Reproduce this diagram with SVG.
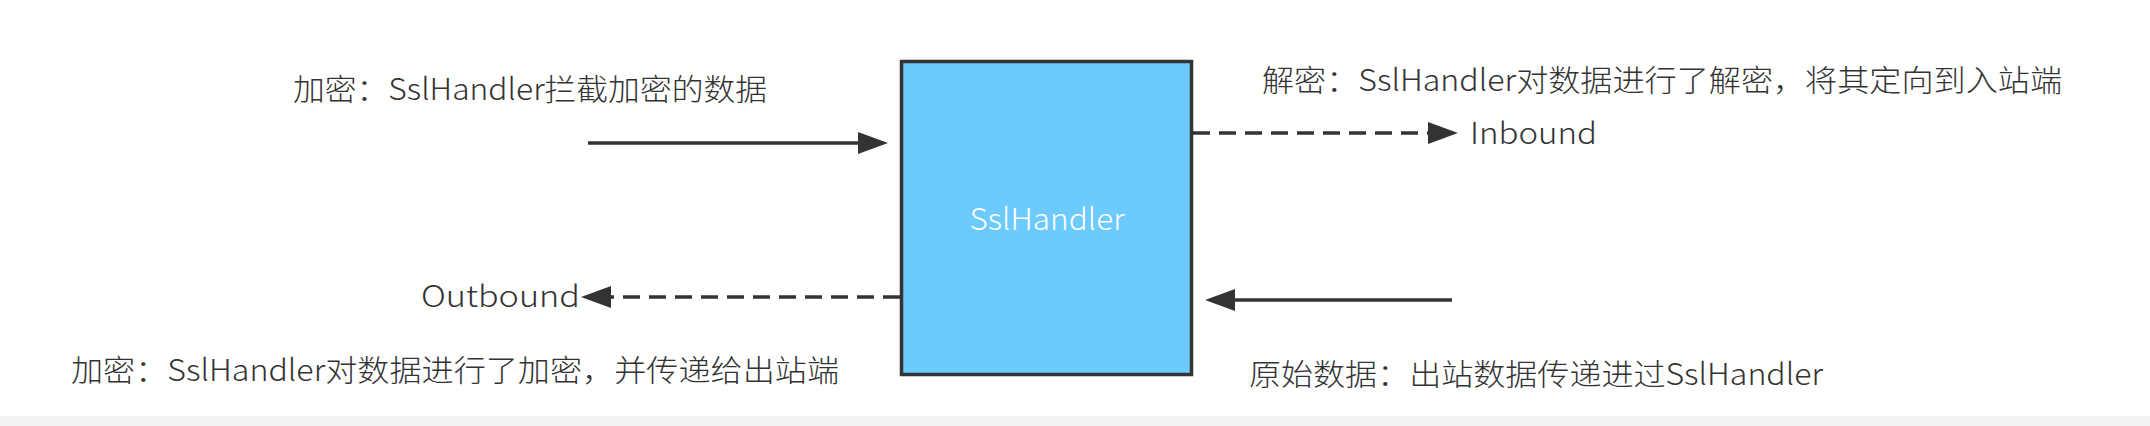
<svg xmlns="http://www.w3.org/2000/svg" width="2150" height="426" viewBox="0 0 2150 426">
  <style>
    .lbl { font-family: "Noto Sans CJK SC", "Noto Sans", "Liberation Sans", sans-serif; font-size: 30px; font-weight: 300; fill: #333333; }
    .inner { font-family: "Noto Sans CJK SC", "Noto Sans", "Liberation Sans", sans-serif; font-size: 30px; font-weight: 300; fill: #ffffff; }
    .solid { stroke: #333333; stroke-width: 3.5; fill: none; }
    .dash { stroke: #333333; stroke-width: 3.5; fill: none; stroke-dasharray: 17 9; }
  </style>
  <defs>
    <marker id="ah" markerUnits="userSpaceOnUse" markerWidth="32" markerHeight="24" refX="0" refY="11" orient="auto">
      <path d="M0,0 L30,11 L0,22 z" fill="#333333"/>
    </marker>
  </defs>
  <rect x="0" y="0" width="2150" height="426" fill="#ffffff"/>
  <rect x="0" y="416" width="2150" height="10" fill="#f3f3f3"/>

  <g id="node-sslhandler">
    <rect x="901.5" y="61.5" width="290" height="313" fill="#6ccafd" stroke="#333333" stroke-width="3.5"/>
    <text class="inner" x="1047" y="230" text-anchor="middle" textLength="155" lengthAdjust="spacingAndGlyphs">SslHandler</text>
  </g>

  <g id="connectors">
    <line class="solid" x1="588" y1="143" x2="858" y2="143" marker-end="url(#ah)"/>
    <line class="dash" x1="1193" y1="133" x2="1428" y2="133" marker-end="url(#ah)"/>
    <line class="dash" x1="900" y1="297" x2="611" y2="297" marker-end="url(#ah)"/>
    <line class="solid" x1="1452" y1="300" x2="1235" y2="300" marker-end="url(#ah)"/>
  </g>

  <g id="label-encrypt-in">
    <text class="lbl" x="293" y="100" textLength="474" lengthAdjust="spacingAndGlyphs">加密：SslHandler拦截加密的数据</text>
  </g>
  <g id="label-decrypt">
    <text class="lbl" x="1262" y="91" textLength="800" lengthAdjust="spacingAndGlyphs">解密：SslHandler对数据进行了解密，将其定向到入站端</text>
  </g>
  <g id="node-inbound">
    <text class="lbl" x="1470" y="144" textLength="127" lengthAdjust="spacingAndGlyphs">Inbound</text>
  </g>
  <g id="node-outbound">
    <text class="lbl" x="421" y="307" textLength="159" lengthAdjust="spacingAndGlyphs">Outbound</text>
  </g>
  <g id="label-encrypt-out">
    <text class="lbl" x="71" y="381" textLength="768" lengthAdjust="spacingAndGlyphs">加密：SslHandler对数据进行了加密，并传递给出站端</text>
  </g>
  <g id="label-raw">
    <text class="lbl" x="1249" y="385" textLength="574" lengthAdjust="spacingAndGlyphs">原始数据：出站数据传递进过SslHandler</text>
  </g>
</svg>
